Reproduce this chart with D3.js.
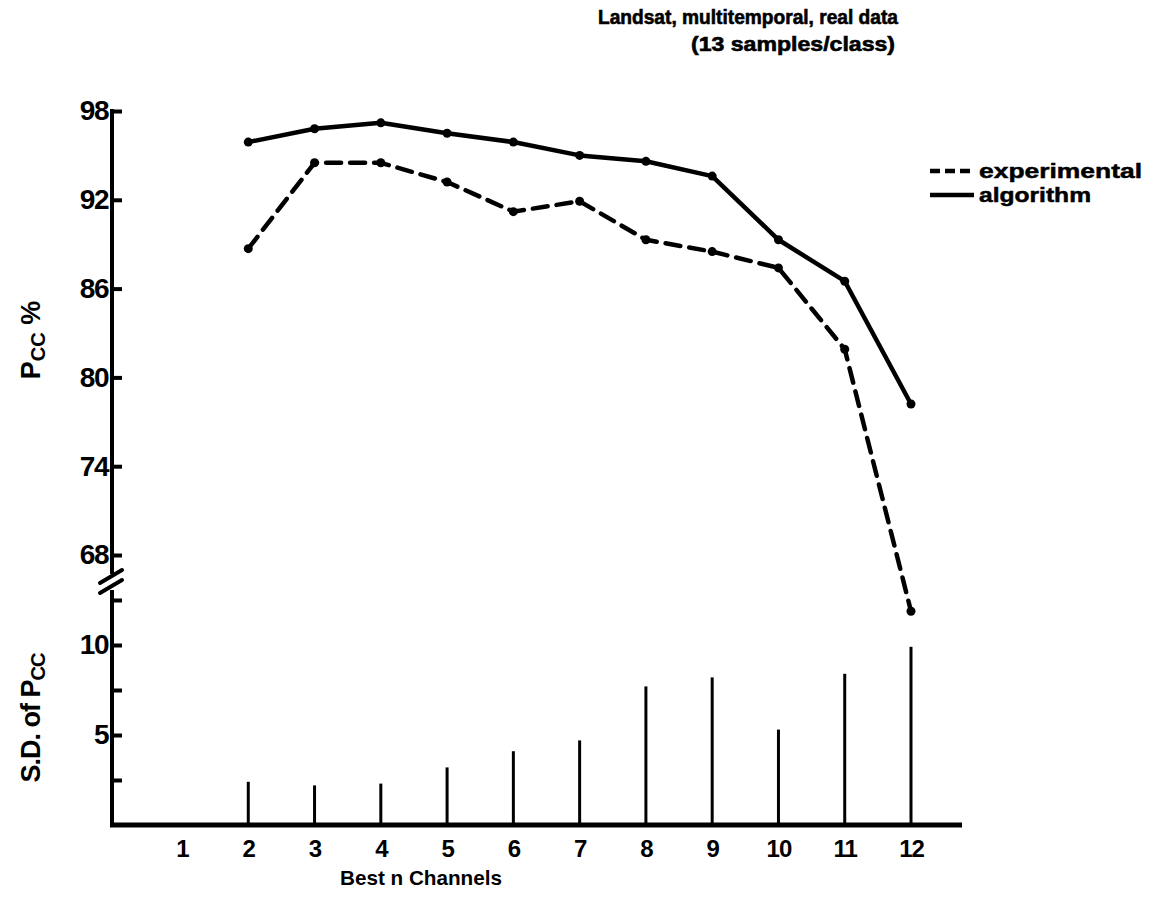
<!doctype html>
<html>

<head>
    <meta charset="utf-8">
    <script src="https://cdnjs.cloudflare.com/ajax/libs/d3/7.8.5/d3.min.js"></script>
    <style>
        body {
            margin: 0;
            background: #fff;
        }

        svg {
            display: block;
            font-family: "Liberation Sans", Arial, sans-serif;
            font-weight: bold;
        }
    </style>
    <title>Landsat, multitemporal</title>
</head>

<body>
    <svg width="1159" height="897"></svg>

    <script>

        // best n channels
        var channels = [2, 3, 4, 5, 6, 7, 8, 9, 10, 11, 12];
        var xTicks = [1, 2, 3, 4, 5, 6, 7, 8, 9, 10, 11, 12];

        // Pcc % (upper panel)
        var algorithm = [95.9, 96.8, 97.2, 96.5, 95.9, 95.0, 94.6, 93.6, 89.3, 86.5, 78.2];
        var experimental = [88.7, 94.5, 94.5, 93.2, 91.2, 91.9, 89.3, 88.5, 87.4, 81.9, 64.2];

        // S.D. of Pcc (lower panel)
        var sdPcc = [2.4, 2.2, 2.3, 3.2, 4.1, 4.7, 7.7, 8.2, 5.3, 8.4, 9.9];

        var pccTicks = [68, 74, 80, 86, 92, 98];
        var sdTicks = [2.5, 5, 7.5, 10, 12.5];
        var sdLabels = [5, 10];

        var svg = d3.select("svg");
        var axisX = 112;

        var x = d3.scaleLinear().domain([1, 12]).range([182, 911]);
        var yTop = d3.scaleLinear().domain([68, 98]).range([555, 111]);
        var yBot = d3.scaleLinear().domain([0, 12.5]).range([825, 600]);

        // title
        svg.append("text")
            .attr("x", 898).attr("y", 24)
            .attr("text-anchor", "end")
            .attr("font-size", 20)
            .attr("stroke", "#000").attr("stroke-width", 0.6)
            .attr("textLength", 300).attr("lengthAdjust", "spacingAndGlyphs")
            .text("Landsat, multitemporal, real data");
        svg.append("text")
            .attr("x", 895).attr("y", 51)
            .attr("text-anchor", "end")
            .attr("font-size", 20)
            .attr("stroke", "#000").attr("stroke-width", 0.6)
            .attr("textLength", 204).attr("lengthAdjust", "spacingAndGlyphs")
            .text("(13  samples/class)");

        // y axis lines (broken)
        svg.append("line")
            .attr("x1", axisX).attr("x2", axisX)
            .attr("y1", yTop(98) - 2).attr("y2", 574)
            .attr("stroke", "#000").attr("stroke-width", 4);
        svg.append("line")
            .attr("x1", axisX).attr("x2", axisX)
            .attr("y1", 590).attr("y2", yBot(0) + 2)
            .attr("stroke", "#000").attr("stroke-width", 4);

        // break marks
        [[583, 570], [593, 580]].forEach(function (b) {
            svg.append("line")
                .attr("x1", axisX - 12).attr("y1", b[0])
                .attr("x2", axisX + 10).attr("y2", b[1])
                .attr("stroke", "#000").attr("stroke-width", 4)
                .attr("stroke-linecap", "round");
        });

        // upper ticks
        var gTop = svg.append("g")
            .attr("transform", "translate(" + axisX + ",0)")
            .call(d3.axisLeft(yTop).tickValues(pccTicks).tickSize(-10).tickPadding(4));
        gTop.select(".domain").remove();

        // lower ticks
        var gBot = svg.append("g")
            .attr("transform", "translate(" + axisX + ",0)")
            .call(d3.axisLeft(yBot).tickValues(sdTicks).tickSize(-10).tickPadding(4)
                .tickFormat(function (d) { return sdLabels.indexOf(d) >= 0 ? d : ""; }));
        gBot.select(".domain").remove();

        svg.selectAll(".tick line")
            .attr("stroke", "#000").attr("stroke-width", 4);
        svg.selectAll(".tick text")
            .attr("fill", "#000")
            .attr("font-family", "Liberation Sans, Arial, sans-serif")
            .attr("font-weight", "bold")
            .attr("font-size", 28)
            .attr("letter-spacing", -1.5);

        // x axis
        svg.append("line")
            .attr("x1", axisX - 2).attr("x2", 962)
            .attr("y1", yBot(0)).attr("y2", yBot(0))
            .attr("stroke", "#000").attr("stroke-width", 5);

        var gx = svg.append("g")
            .attr("transform", "translate(0," + yBot(0) + ")")
            .call(d3.axisBottom(x).tickValues(xTicks).tickSize(0).tickPadding(15));
        gx.select(".domain").remove();
        gx.selectAll("text")
            .attr("fill", "#000")
            .attr("font-family", "Liberation Sans, Arial, sans-serif")
            .attr("font-weight", "bold")
            .attr("font-size", 24)
            .attr("letter-spacing", -1);

        svg.append("text")
            .attr("x", 421).attr("y", 885)
            .attr("text-anchor", "middle")
            .attr("font-size", 21)
            .attr("textLength", 162).attr("lengthAdjust", "spacingAndGlyphs")
            .text("Best n Channels");

        // y axis titles
        var t1 = svg.append("text")
            .attr("transform", "translate(40,340) rotate(-90)")
            .attr("text-anchor", "middle")
            .attr("font-size", 27);
        t1.append("tspan").text("P");
        t1.append("tspan").attr("font-size", 20).attr("dy", 5).text("CC");
        t1.append("tspan").attr("dy", -5).text(" %");

        var t2 = svg.append("text")
            .attr("transform", "translate(40,718) rotate(-90)")
            .attr("text-anchor", "middle")
            .attr("font-size", 27)
            .attr("letter-spacing", -1);
        t2.append("tspan").text("S.D. of P");
        t2.append("tspan").attr("font-size", 20).attr("dy", 5).text("CC");

        // SD bars
        svg.selectAll(".sd")
            .data(channels)
            .enter().append("line")
            .attr("class", "sd")
            .attr("x1", function (d) { return x(d); })
            .attr("x2", function (d) { return x(d); })
            .attr("y1", yBot(0))
            .attr("y2", function (d, i) { return yBot(sdPcc[i]); })
            .attr("stroke", "#000").attr("stroke-width", 3);

        // lines
        var line = d3.line()
            .x(function (d) { return x(d[0]); })
            .y(function (d) { return yTop(d[1]); });

        var series = [
            { values: experimental, dash: "15,9" },
            { values: algorithm, dash: null }
        ];

        series.forEach(function (s) {
            var pts = channels.map(function (c, i) { return [c, s.values[i]]; });
            svg.append("path")
                .datum(pts)
                .attr("d", line)
                .attr("fill", "none")
                .attr("stroke", "#000")
                .attr("stroke-width", 4.5)
                .attr("stroke-dasharray", s.dash)
                .attr("stroke-linecap", s.dash ? "round" : "butt")
                .attr("stroke-linejoin", "round");
            svg.selectAll(null)
                .data(pts)
                .enter().append("circle")
                .attr("cx", function (d) { return x(d[0]); })
                .attr("cy", function (d) { return yTop(d[1]); })
                .attr("r", 4.5)
                .attr("fill", "#000");
        });

        // legend
        var legend = svg.append("g").attr("transform", "translate(930,171)");
        legend.append("line")
            .attr("x1", 0).attr("x2", 44).attr("y1", 0).attr("y2", 0)
            .attr("stroke", "#000").attr("stroke-width", 4.5)
            .attr("stroke-dasharray", "10,5");
        legend.append("line")
            .attr("x1", 0).attr("x2", 44).attr("y1", 24).attr("y2", 24)
            .attr("stroke", "#000").attr("stroke-width", 4.5);
        legend.append("text").attr("x", 49).attr("y", 7)
            .attr("font-size", 21)
            .attr("stroke", "#000").attr("stroke-width", 0.5)
            .attr("textLength", 163).attr("lengthAdjust", "spacingAndGlyphs")
            .text("experimental");
        legend.append("text").attr("x", 49).attr("y", 31)
            .attr("font-size", 21)
            .attr("stroke", "#000").attr("stroke-width", 0.5)
            .attr("textLength", 112).attr("lengthAdjust", "spacingAndGlyphs")
            .text("algorithm");

    </script>
</body>

</html>
